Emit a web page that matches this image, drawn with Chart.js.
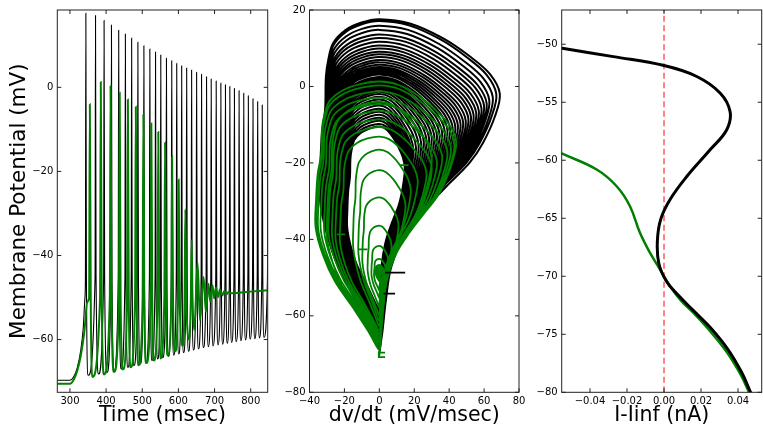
<!DOCTYPE html>
<html><head><meta charset="utf-8">
<script src="https://cdn.jsdelivr.net/npm/chart.js@4.4.1/dist/chart.umd.min.js"></script>
<style>
html,body{margin:0;padding:0;background:#fff;overflow:hidden;width:763px;height:429px;}
canvas{position:absolute;top:0;}
</style></head><body>
<canvas id="c1" width="280" height="429" style="left:0px"></canvas>
<canvas id="c2" width="250" height="429" style="left:280px"></canvas>
<canvas id="c3" width="233" height="429" style="left:530px"></canvas>
<script>
// ===== Panel 1: membrane potential vs time (traces continue past the visible window) =====
const blackRest = [[265,-69.7],[300,-69.7],[310,-68.9],[320,-66.8],[330,-62.5],[337,-57],[341.5,-50]];
const blackSpikeTimes = [344,370.7,394.4,414.8,434.8,453.3,470.6,487.9,504.5,521,536.7,551.2,566.9,581.5,595.3,609,622.8,636.5,650.3,664,677.8,690.7,704.5,717.4,730.1,742.2,754.9,767.8,780.7,793.4,806.3,819.2,831.9,847.6,860.2,872.8,885.4,898,910.6,923.2,935.8];
const blackSpikePeaks = [17.6,17.1,15.9,14.8,13.6,12.7,11.7,10.7,9.9,9.1,8.4,7.7,6.9,6.3,5.7,5.1,4.6,4.1,3.6,3.1,2.5,2.0,1.5,1.0,0.6,0.2,-0.3,-0.8,-1.4,-2.0,-2.7,-3.4,-4.2,-5.0,-5.8,-6.6,-7.4,-8.2,-9.0,-9.8,-10.5];
const blackTroughTimes = [350.4,379.2,402.4,422.3,441.8,460.3,477.1,494.4,510.5,527,542.7,556.7,572.4,587,600.8,614,627.8,641.5,655.3,669,682.8,695.7,709.5,722.4,735.1,747.2,759.9,772.8,785.7,798.4,811.3,824.2,836.9,852.6,865.2,877.8,890.4,903,915.6,928.2,940.8];
const blackTroughs = [-68.5,-68.2,-67.8,-67.4,-67.0,-66.6,-66.2,-65.8,-65.4,-65.0,-64.6,-64.3,-64.0,-63.7,-63.4,-63.1,-62.8,-62.5,-62.2,-61.9,-61.7,-61.5,-61.3,-61.1,-60.9,-60.7,-60.5,-60.3,-60.1,-59.9,-59.8,-59.6,-59.5,-59.4,-59.3,-59.2,-59.1,-59.0,-58.9,-58.8,-58.7];
const blackTail = [];

const greenRest = [[265,-70.5],[300,-70.5],[310,-69.6],[320,-67.5],[330,-63.8],[340,-58],[348,-51]];
const greenSpikeTimes = [355,385.3,412.3,437.6,460.2,482.2,503.1,525.1,544.4,563.1,582.6,600.8,619.2,636.5,653,669.6,683.3,694.3,703.7,714.7,726.5,738.4];
const greenSpikePeaks = [-4.0,1.3,0.3,-1.3,-2.9,-4.6,-6.4,-8.6,-10.6,-13.1,-16.5,-21.9,-29.0,-36.4,-41.7,-45.1,-46.7,-47.1,-47.6,-48.1,-48.5,-48.7];
const greenTroughTimes = [361.4,394.4,421.9,446.7,467.9,489.9,511.1,532,550.4,570.5,590.9,611.8,630.2,643.9,659.7,676,688,699,710,721.9,733,744];
const greenTroughs = [-68.9,-68.3,-67.7,-67.1,-66.6,-66.1,-65.6,-65.0,-64.5,-63.8,-62.8,-61.5,-60.0,-57.8,-55.4,-53.4,-51.0,-50.2,-49.9,-49.5,-49.3,-49.0];
const greenTail = [[760,-48.9],[800,-48.6],[847,-48.3]];

const timeTicks = [300,400,500,600,700,800];
const vmTicks = [-60,-40,-20,0];

// ===== Panel 2: phase plot (dv/dt vs v), per-spike loop extents =====
const blackRateMax = [69,67,65,63,61.5,60,58.5,57,55.5,54,52.5,51,49.5,48,46.5,45,43.5,42,40.5,39,37.5,36,34.5,33,31.5,30,28.5,27,25.5,24,22.5,21,19.5,18.5,17.8,17.1,16.5,16,15.5,15,14.6];
const blackRateMin = [-34,-33.6,-33.2,-32.8,-32.4,-32,-31.6,-31.2,-30.8,-30.4,-30,-29.6,-29.2,-28.8,-28.4,-28,-27.6,-27.2,-26.8,-26.4,-26,-25.6,-25.2,-24.8,-24.4,-24,-23.6,-23.2,-22.8,-22.4,-22,-21.6,-21.2,-20.8,-20.4,-20,-19.6,-19.3,-19,-18.7,-18.4];
const greenRateMax = [30,44,43,41,39,36,33,30,27,22,18,15,11,7,5,3.5,2.5,2,1.5,1.1,0.8,0.6];
const greenRateMin = [-30,-36.5,-36,-35,-33.5,-31.5,-29,-27,-25,-22.5,-15,-12,-9.7,-6.7,-4.5,-3,-2,-1.5,-1.1,-0.8,-0.6,-0.5];
// loop outline read from the outermost loop (fraction of height, fraction of extreme rate)
const riseU = [0,.062,.16,.259,.359,.44,.50,.57,.629,.709,.777,.836,.888,.943,.987,1];
const riseX = [0,.025,.055,.10,.22,.40,.56,.75,.86,.96,1,.917,.753,.527,.253,0];
const fallU = [1,.99,.967,.927,.877,.826,.725,.654,.553,.452,.351,.25,.149,.049,0];
const fallX = [0,.3,.57,.78,.86,.9,.914,.967,.994,1,.89,.70,.41,.14,0];
const blackPhaseStubs = [[[3.3,-48.7],[14.8,-48.7]],[[2.4,-54.2],[9,-54.2]]];
const greenPhaseStubs = [[[12,-20.6],[16.7,-20.6]],[[-24.3,-38.7],[-19.6,-38.7]],[[-12,-42.6],[-6.8,-42.6]],[[3.3,-69.6],[-0.3,-69.6],[-0.3,-70.8],[3.3,-70.8]]];
const rateTicks = [-40,-20,0,20,40,60,80];
const phaseVTicks = [-80,-60,-40,-20,0,20];

// ===== Panel 3: I - Iinf vs v =====
const blackIV_I = [-0.058,-0.055,-0.0274,0,0.0177,0.0303,0.0357,0.0339,0.0249,0.0123,0.0032,-0.0018,-0.0036,-0.0028,0.0012,0.0075,0.0155,0.0249,0.0345,0.042,0.0468,0.05];
const blackIV_V = [-50.25,-50.35,-51.07,-51.84,-52.78,-54.2,-55.8,-57.37,-59.1,-61.4,-63.4,-65.1,-67.0,-68.9,-70.4,-71.6,-72.9,-74.4,-76.3,-78.3,-80,-81];
const greenIV_I = [-0.058,-0.055,-0.0364,-0.0256,-0.0184,-0.013,-0.0076,-0.0022,0.0032,0.0092,0.0165,0.0245,0.034,0.0415,0.0463,0.05];
const greenIV_V = [-59.2,-59.43,-60.8,-62.24,-63.96,-66.25,-67.97,-69.4,-70.84,-72.1,-73.25,-74.65,-76.55,-78.5,-80.1,-81.2];
const currentTicks = [-0.04,-0.02,0,0.02,0.04];
const ivVTicks = [-80,-75,-70,-65,-60,-55,-50];

// ===== builders =====
const FONT = 'DejaVu Sans';
const GREEN = '#008000';
const toPts = arr => arr.map(p => ({x:p[0], y:p[1]}));

function buildTrace(rest, tp, pk, tt, tr, shoulderV, before, after, minPk, tail) {
  const pts = toPts(rest);
  tp.forEach((t, i) => {
    const big = pk[i] > minPk;
    if (big) pts.push({x:t-before, y:shoulderV});
    pts.push({x:t, y:pk[i]});
    if (big) pts.push({x:t+after, y:shoulderV});
    pts.push({x:tt[i], y:tr[i]});
  });
  return pts.concat(toPts(tail));
}
function buildLoops(restV, pk, tr, rMax, rMin) {
  const pts = [];
  let prev = restV;
  pk.forEach((P, i) => {
    for (let k = (i === 0 ? 0 : 1); k < riseU.length; k++)
      pts.push({x: rMax[i]*riseX[k], y: prev + riseU[k]*(P - prev)});
    for (let k = 1; k < fallU.length; k++)
      pts.push({x: rMin[i]*fallX[k], y: tr[i] + fallU[k]*(P - tr[i])});
    prev = tr[i];
  });
  return pts;
}
const zip = (a, b) => a.map((v, i) => ({x:v, y:b[i]}));
const minusFmt = v => String(v).replace('-', '\u2212');
const dec2Fmt = v => (Math.abs(v) < 1e-9 ? '0.00' : v.toFixed(2)).replace('-', '\u2212');

function axis(min, max, ticks, fmt, size, isY, title, titlePad, titleSize) {
  return {
    type: 'linear', min, max,
    grid: {display:false, drawTicks:false},
    border: {display:false},
    afterBuildTicks: s => { s.ticks = ticks.map(v => ({value:v})); },
    afterFit: s => { if (isY) s.width = size; else s.height = size; },
    ticks: {autoSkip:false, maxRotation:0, minRotation:0, padding: isY ? 4 : 3, color:'#000',
            font:{family:FONT, size:10}, callback: v => fmt(v)},
    title: title ? {display:true, text:title, color:'#000', font:{family:FONT, size:titleSize || 20.5}, padding:titlePad} : {display:false}
  };
}
const frame = {
  id: 'frame',
  afterDatasetsDraw(chart) {
    const {ctx, chartArea:a, scales:{x, y}} = chart;
    ctx.save();
    ctx.strokeStyle = '#222'; ctx.lineWidth = 1;
    ctx.beginPath();
    x.ticks.forEach(t => { const p = x.getPixelForValue(t.value);
      ctx.moveTo(p, a.bottom); ctx.lineTo(p, a.bottom - 4); ctx.moveTo(p, a.top); ctx.lineTo(p, a.top + 4); });
    y.ticks.forEach(t => { const p = y.getPixelForValue(t.value);
      ctx.moveTo(a.left, p); ctx.lineTo(a.left + 4, p); ctx.moveTo(a.right, p); ctx.lineTo(a.right - 4, p); });
    ctx.stroke();
    ctx.strokeRect(a.left, a.top, a.right - a.left, a.bottom - a.top);
    ctx.restore();
  }
};
function line(data, color, width, extra) {
  return Object.assign({data, showLine:true, pointRadius:0, borderColor:color, borderWidth:width, fill:false, clip:0}, extra || {});
}
function make(id, datasets, xs, ys, pad) {
  return new Chart(document.getElementById(id), {
    type: 'scatter',
    data: {datasets},
    options: {
      responsive:false, animation:false, devicePixelRatio:1,
      layout: {padding: pad},
      plugins: {legend:{display:false}, tooltip:{enabled:false}},
      scales: {x: xs, y: ys}
    },
    plugins: [frame]
  });
}

// Panel 1
make('c1', [
  line(buildTrace(greenRest, greenSpikeTimes, greenSpikePeaks, greenTroughTimes, greenTroughs, -50, 2, 2.5, -40, greenTail), GREEN, 2, {cubicInterpolationMode:'monotone'}),
  line(buildTrace(blackRest, blackSpikeTimes, blackSpikePeaks, blackTroughTimes, blackTroughs, -45, 1.2, 1.5, -40, blackTail), '#000', 1.1, {cubicInterpolationMode:'monotone'})
], axis(265, 847, timeTicks, minusFmt, 36.7, false, 'Time (msec)', {top:0, bottom:1.2}),
   axis(-72.55, 18.4, vmTicks, minusFmt, 57.3, true, 'Membrane Potential (mV)', {top:7, bottom:0}, 21.5),
   {left:0, right:12.3, top:10, bottom:0});

// Panel 2
const p2 = [];
blackPhaseStubs.forEach(s => p2.push(line(toPts(s), '#000', 1.8)));
greenPhaseStubs.forEach(s => p2.push(line(toPts(s), GREEN, 1.8)));
p2.push(line(buildLoops(-70.5, greenSpikePeaks, greenTroughs, greenRateMax, greenRateMin), GREEN, 1.8, {tension:0.35}));
p2.push(line(buildLoops(-69.7, blackSpikePeaks, blackTroughs, blackRateMax, blackRateMin), '#000', 2, {tension:0.35}));
make('c2', p2,
   axis(-40, 80, rateTicks, minusFmt, 36.7, false, 'dv/dt (mV/msec)', {top:0, bottom:1.2}),
   axis(-80, 20, phaseVTicks, minusFmt, 29.5, true, null),
   {left:0, right:11, top:10, bottom:0});

// Panel 3
make('c3', [
  line(zip(blackIV_I, blackIV_V), '#000', 3, {tension:0.4}),
  line(zip(greenIV_I, greenIV_V), GREEN, 2.5, {tension:0.4}),
  line([{x:0, y:-80}, {x:0, y:-47.05}], '#ff5a5a', 1.5, {borderDash:[6,3.5]})
], axis(-0.0553, 0.0528, currentTicks, dec2Fmt, 36.7, false, 'I-Iinf (nA)', {top:0, bottom:1.2}),
   axis(-80, -47.05, ivVTicks, minusFmt, 31.7, true, null),
   {left:0, right:1.3, top:10, bottom:0});
</script>
</body></html>
